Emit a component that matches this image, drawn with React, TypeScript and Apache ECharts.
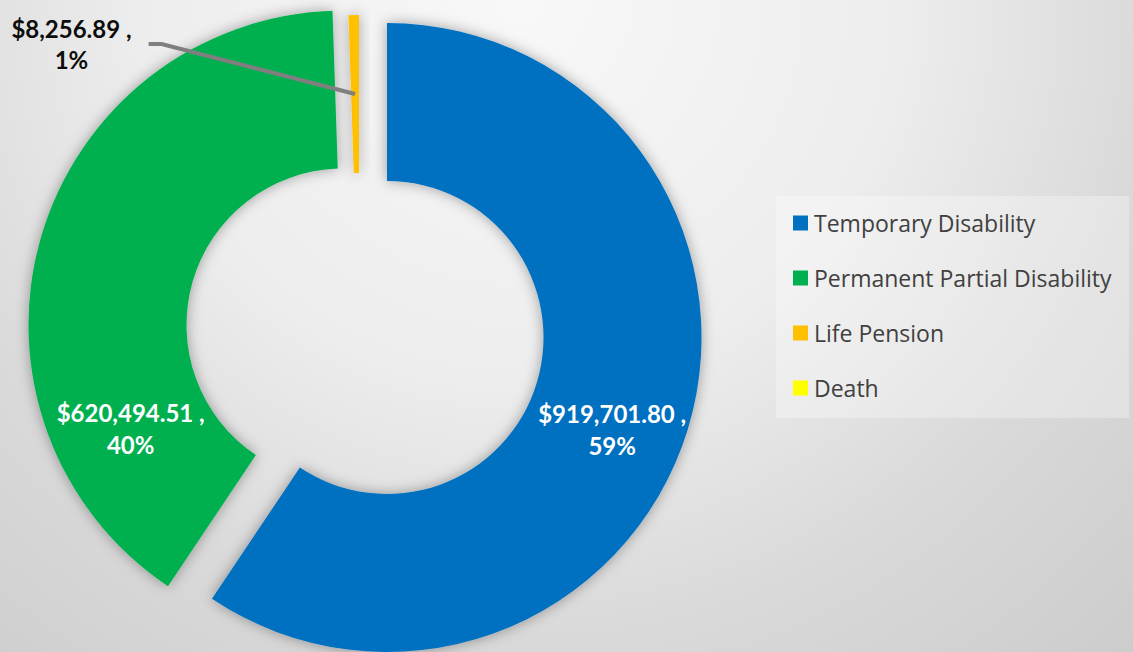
import React, { useEffect, useRef } from "react";
import * as echarts from "echarts";

const categories = ["Temporary Disability", "Permanent Partial Disability", "Life Pension", "Death"];
const values = [919701.8, 620494.51, 8256.89, 0];
const colors = ["#0070C0", "#00B050", "#FFC000", "#FFFF00"];

const R_OUT = 314.5;
const R_IN = 156.5;

const fmtMoney = (v: number) =>
  "$" + v.toLocaleString("en-US", { minimumFractionDigits: 2, maximumFractionDigits: 2 });
const labelText = (p: any) => `${fmtMoney(p.value)} ,\n${Math.round(p.percent)}%`;

const makeData = (show: number[], labelIdx: number | null, labelExtra: any = {}) =>
  categories.map((name, i) => ({
    name,
    value: values[i],
    itemStyle: show.includes(i)
      ? { color: colors[i], shadowBlur: 14, shadowColor: "rgba(0,0,0,0.35)" }
      : { color: "rgba(0,0,0,0)" },
    label: { show: i === labelIdx, ...labelExtra },
    labelLine: { show: i === labelIdx },
  }));

const insideLabel = {
  position: "inside",
  formatter: labelText,
  color: "#ffffff",
  fontFamily: "Lato",
  fontWeight: "bold",
  fontSize: 24,
  lineHeight: 32,
  align: "center",
};

export default function App() {
  const ref = useRef<HTMLDivElement>(null);
  useEffect(() => {
    if (!ref.current) return;
    const chart = echarts.init(ref.current, undefined, { renderer: "svg" });
    const common = {
      type: "pie",
      silent: true,
      animation: false,
      avoidLabelOverlap: false,
      startAngle: 90,
      clockwise: true,
      radius: [R_IN, R_OUT],
      emphasis: { disabled: true },
    };
    chart.setOption({
      animation: false,
      backgroundColor: "transparent",
      graphic: [
        {
          type: "rect",
          shape: { x: 776, y: 196, width: 353, height: 222 },
          style: { fill: "rgba(255,255,255,0.3)" },
          z: -1,
          silent: true,
        },
      ],
      legend: {
        orient: "vertical",
        left: 793,
        top: 211,
        padding: 0,
        itemWidth: 15,
        itemHeight: 15,
        itemGap: 31,
        icon: "rect",
        selectedMode: false,
        data: categories.map((n, i) => ({ name: n, itemStyle: { color: colors[i] } })),
        textStyle: { fontFamily: "Open Sans", fontSize: 23, color: "#404040", lineHeight: 24, padding: [0, 0, 0, 1] },
      },
      series: [
        {
          ...common,
          name: "temporary",
          z: 2,
          center: [387, 337.5],
          label: insideLabel,
          labelLayout: (p: any) => (p.dataIndex === 0 ? { dx: -3, dy: 23 } : {}),
          data: makeData([0], 0),
        },
        {
          ...common,
          name: "permanent",
          z: 2,
          center: [343, 325],
          label: insideLabel,
          labelLayout: (p: any) => (p.dataIndex === 1 ? { dx: 17, dy: 169 } : {}),
          data: makeData([1], 1),
        },
        {
          ...common,
          name: "small",
          z: 2,
          center: [359, 329.5],
          label: { show: false },
          data: makeData([2, 3], null),
        },
        {
          ...common,
          name: "leader",
          z: 5,
          center: [359, 329.5],
          radius: [0, (R_IN + R_OUT) / 2],
          label: {
            position: "outside",
            formatter: labelText,
            color: "#0d0d0d",
            fontFamily: "Lato",
            fontWeight: "bold",
            fontSize: 24,
            lineHeight: 31,
            align: "center",
            padding: [0, 17, 0, 0],
          },
          labelLine: { length: 10, length2: 13, smooth: false, lineStyle: { color: "#7f7f7f", width: 4 } },
          labelLayout: (p: any) =>
            p.dataIndex === 2 ? { x: 80, y: 44, align: "center", verticalAlign: "middle" } : {},
          data: makeData([], 2),
        },
      ],
    });
    return () => chart.dispose();
  }, []);
  return (
    <div
      ref={ref}
      style={{
        position: "absolute",
        left: 0,
        top: 0,
        width: 1133,
        height: 652,
        background:
          "radial-gradient(circle at 520px 0px, #f8f8f8 0px, #ededed 380px, #d9d9d9 640px, #cccccc 900px)",
      }}
    />
  );
}
